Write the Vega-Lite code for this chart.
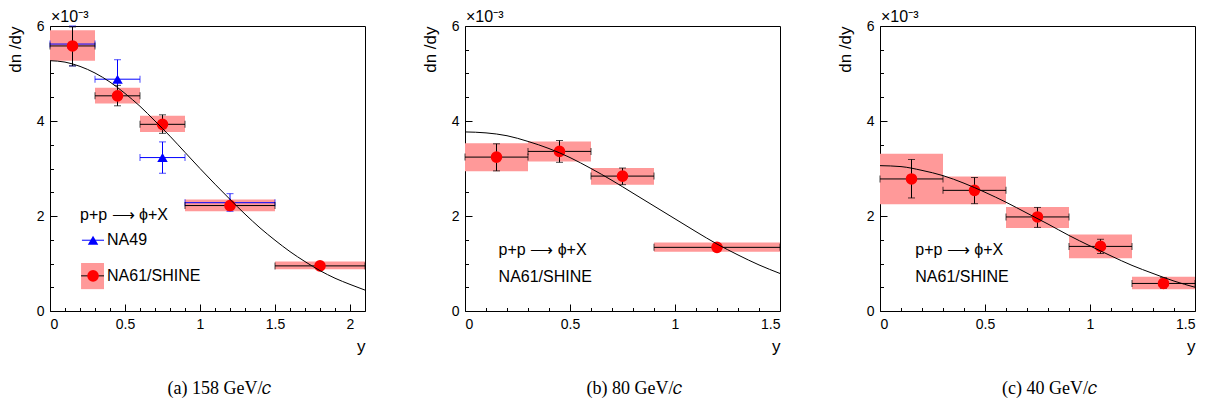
{
"$schema": "https://vega.github.io/schema/vega-lite/v6.json",
"background": "white",
"padding": {"left": 5, "top": 8, "right": 5, "bottom": 0},
"spacing": 100,
"bounds": "flush",
"datasets": {
"meas": [
{"p":"a","e":"NA61","x":0.15,"xlo":0,"xhi":0.3,"y":5.58,"ylo":5.16,"yhi":5.98,"slo":5.27,"shi":5.91},
{"p":"a","e":"NA61","x":0.45,"xlo":0.3,"xhi":0.6,"y":4.53,"ylo":4.32,"yhi":4.75,"slo":4.37,"shi":4.70},
{"p":"a","e":"NA61","x":0.75,"xlo":0.6,"xhi":0.9,"y":3.93,"ylo":3.74,"yhi":4.13,"slo":3.77,"shi":4.11},
{"p":"a","e":"NA61","x":1.2,"xlo":0.9,"xhi":1.5,"y":2.22,"ylo":2.16,"yhi":2.28,"slo":2.10,"shi":2.35},
{"p":"a","e":"NA61","x":1.8,"xlo":1.5,"xhi":2.1,"y":0.95,"ylo":0.91,"yhi":0.99,"slo":0.88,"shi":1.04},
{"p":"a","e":"NA49","x":0.15,"xlo":0,"xhi":0.3,"y":5.62,"ylo":5.16,"yhi":6.0},
{"p":"a","e":"NA49","x":0.45,"xlo":0.3,"xhi":0.6,"y":4.88,"ylo":4.46,"yhi":5.29},
{"p":"a","e":"NA49","x":0.75,"xlo":0.6,"xhi":0.9,"y":3.23,"ylo":2.90,"yhi":3.56},
{"p":"a","e":"NA49","x":1.2,"xlo":0.9,"xhi":1.5,"y":2.28,"ylo":2.10,"yhi":2.47},
{"p":"b","e":"NA61","x":0.15,"xlo":0,"xhi":0.3,"y":3.24,"ylo":2.95,"yhi":3.52,"slo":2.94,"shi":3.53},
{"p":"b","e":"NA61","x":0.45,"xlo":0.3,"xhi":0.6,"y":3.36,"ylo":3.13,"yhi":3.59,"slo":3.15,"shi":3.57},
{"p":"b","e":"NA61","x":0.75,"xlo":0.6,"xhi":0.9,"y":2.84,"ylo":2.66,"yhi":3.01,"slo":2.66,"shi":3.01},
{"p":"b","e":"NA61","x":1.2,"xlo":0.9,"xhi":1.5,"y":1.34,"ylo":1.30,"yhi":1.38,"slo":1.25,"shi":1.44},
{"p":"c","e":"NA61","x":0.15,"xlo":0,"xhi":0.3,"y":2.78,"ylo":2.38,"yhi":3.19,"slo":2.25,"shi":3.31},
{"p":"c","e":"NA61","x":0.45,"xlo":0.3,"xhi":0.6,"y":2.54,"ylo":2.26,"yhi":2.81,"slo":2.25,"shi":2.83},
{"p":"c","e":"NA61","x":0.75,"xlo":0.6,"xhi":0.9,"y":1.98,"ylo":1.76,"yhi":2.18,"slo":1.75,"shi":2.19},
{"p":"c","e":"NA61","x":1.05,"xlo":0.9,"xhi":1.2,"y":1.36,"ylo":1.21,"yhi":1.51,"slo":1.11,"shi":1.61},
{"p":"c","e":"NA61","x":1.35,"xlo":1.2,"xhi":1.5,"y":0.58,"ylo":0.48,"yhi":0.70,"slo":0.46,"shi":0.72}
],
"fit": [
{"p":"a","x":0,"y":5.27},{"p":"a","x":0.1,"y":5.24},{"p":"a","x":0.2,"y":5.15},{"p":"a","x":0.3,"y":5.01},{"p":"a","x":0.4,"y":4.82},{"p":"a","x":0.5,"y":4.58},{"p":"a","x":0.6,"y":4.31},{"p":"a","x":0.7,"y":4.0},{"p":"a","x":0.8,"y":3.68},{"p":"a","x":0.9,"y":3.34},{"p":"a","x":1.0,"y":3.0},{"p":"a","x":1.1,"y":2.67},{"p":"a","x":1.2,"y":2.35},{"p":"a","x":1.3,"y":2.04},{"p":"a","x":1.4,"y":1.75},{"p":"a","x":1.5,"y":1.49},{"p":"a","x":1.6,"y":1.25},{"p":"a","x":1.7,"y":1.04},{"p":"a","x":1.8,"y":0.85},{"p":"a","x":1.9,"y":0.69},{"p":"a","x":2.0,"y":0.56},{"p":"a","x":2.1,"y":0.44},
{"p":"b","x":0,"y":3.77},{"p":"b","x":0.1,"y":3.75},{"p":"b","x":0.2,"y":3.69},{"p":"b","x":0.3,"y":3.57},{"p":"b","x":0.4,"y":3.42},{"p":"b","x":0.5,"y":3.23},{"p":"b","x":0.6,"y":3.0},{"p":"b","x":0.7,"y":2.75},{"p":"b","x":0.8,"y":2.48},{"p":"b","x":0.9,"y":2.21},{"p":"b","x":1.0,"y":1.94},{"p":"b","x":1.1,"y":1.67},{"p":"b","x":1.2,"y":1.41},{"p":"b","x":1.3,"y":1.18},{"p":"b","x":1.4,"y":0.97},{"p":"b","x":1.5,"y":0.79},
{"p":"c","x":0,"y":3.06},{"p":"c","x":0.1,"y":3.04},{"p":"c","x":0.2,"y":2.96},{"p":"c","x":0.3,"y":2.85},{"p":"c","x":0.4,"y":2.69},{"p":"c","x":0.5,"y":2.5},{"p":"c","x":0.6,"y":2.29},{"p":"c","x":0.7,"y":2.06},{"p":"c","x":0.8,"y":1.83},{"p":"c","x":0.9,"y":1.59},{"p":"c","x":1.0,"y":1.37},{"p":"c","x":1.1,"y":1.16},{"p":"c","x":1.2,"y":0.96},{"p":"c","x":1.3,"y":0.79},{"p":"c","x":1.4,"y":0.63},{"p":"c","x":1.5,"y":0.5}
],
"legend": [
{"p":"a","e":"NA49","x":0.287,"xlo":0.213,"xhi":0.36,"y":1.49},
{"p":"a","e":"NA61","x":0.287,"xlo":0.207,"xhi":0.36,"y":0.74,"slo":0.46,"shi":1.01}
],
"labels": [
{"p":"a","x":0.2,"y":2.02,"text":"p+p ⟶ ϕ+X"},
{"p":"a","x":0.38,"y":1.49,"text":"NA49"},
{"p":"a","x":0.38,"y":0.74,"text":"NA61/SHINE"},
{"p":"b","x":0.16,"y":1.28,"text":"p+p ⟶ ϕ+X"},
{"p":"b","x":0.16,"y":0.72,"text":"NA61/SHINE"},
{"p":"c","x":0.168,"y":1.28,"text":"p+p ⟶ ϕ+X"},
{"p":"c","x":0.168,"y":0.72,"text":"NA61/SHINE"}
],
"corner": [{"x": 0, "y": 6, "text": "×10⁻³"}]
},
"config": {
"font": "Liberation Sans",
"view": {"stroke": "black", "strokeWidth": 1},
"axis": {"domain": false, "grid": false, "tickColor": "black", "tickWidth": 1, "labelColor": "black", "labelFont": "Liberation Sans", "labelFontSize": 14, "titleFont": "Liberation Sans", "titleFontSize": 17, "titleFontWeight": "normal", "titleColor": "black", "labelPadding": 13, "labelOverlap": false},
"axisY": {"titleAnchor": "end", "titlePadding": 12},
"axisX": {"titleAnchor": "end", "titlePadding": 4},
"title": {"font": "Liberation Serif", "fontSize": 18, "fontWeight": "normal", "color": "black", "orient": "bottom", "offset": 25, "dx": 12}
},
"hconcat": [
{
"width": 315, "height": 285,
"title": {"text": "(a) 158 GeV/𝑐"},
"layer": [
{"data": {"name": "meas"}, "transform": [{"filter": "datum.p==='a' && datum.e==='NA61'"}],
 "mark": {"type": "rect", "color": "#ff9999"},
 "encoding": {
  "x": {"field": "xlo", "type": "quantitative", "title": "y", "scale": {"domain": [0, 2.1], "nice": false, "zero": false},
   "axis": {"values": [0,0.1,0.2,0.3,0.4,0.5,0.6,0.7,0.8,0.9,1,1.1,1.2,1.3,1.4,1.5,1.6,1.7,1.8,1.9,2,2.1], "tickCount": 50, "tickSize": {"condition": {"test": "abs(datum.value*2 - round(datum.value*2)) < 0.001", "value": -7}, "value": -3.5}, "labelExpr": "abs(datum.value*2 - round(datum.value*2)) < 0.001 ? '' + round(datum.value*10)/10 : ''"}},
  "x2": {"field": "xhi"},
  "y": {"field": "slo", "type": "quantitative", "title": "dn /dy", "scale": {"domain": [0, 6], "nice": false},
   "axis": {"values": [0,0.5,1,1.5,2,2.5,3,3.5,4,4.5,5,5.5,6], "tickCount": 50, "tickSize": {"condition": {"test": "abs(datum.value/2 - round(datum.value/2)) < 0.001", "value": -7}, "value": -3.5}, "labelExpr": "abs(datum.value/2 - round(datum.value/2)) < 0.001 ? '' + round(datum.value) : ''"}},
  "y2": {"field": "shi"}}},
{"data": {"name": "legend"}, "transform": [{"filter": "datum.p==='a' && datum.e==='NA61'"}],
 "mark": {"type": "rect", "color": "#ff9999"},
 "encoding": {
  "x": {"field": "xlo", "type": "quantitative", "title": "y", "axis": {"values": [0,0.1,0.2,0.3,0.4,0.5,0.6,0.7,0.8,0.9,1,1.1,1.2,1.3,1.4,1.5,1.6,1.7,1.8,1.9,2,2.1], "tickCount": 50, "tickSize": {"condition": {"test": "abs(datum.value*2 - round(datum.value*2)) < 0.001", "value": -7}, "value": -3.5}, "labelExpr": "abs(datum.value*2 - round(datum.value*2)) < 0.001 ? '' + round(datum.value*10)/10 : ''"}},
  "x2": {"field": "xhi"},
  "y": {"field": "slo", "type": "quantitative", "title": "dn /dy", "axis": {"values": [0,0.5,1,1.5,2,2.5,3,3.5,4,4.5,5,5.5,6], "tickCount": 50, "tickSize": {"condition": {"test": "abs(datum.value/2 - round(datum.value/2)) < 0.001", "value": -7}, "value": -3.5}, "labelExpr": "abs(datum.value/2 - round(datum.value/2)) < 0.001 ? '' + round(datum.value) : ''"}},
  "y2": {"field": "shi"}}},
{"data": {"name": "meas"}, "transform": [{"filter": "datum.p==='a' && datum.e==='NA49'"}],
 "mark": {"type": "errorbar", "color": "blue", "ticks": {"size": 7}},
 "encoding": {
  "x": {"field": "xlo", "type": "quantitative", "title": "y", "axis": {"values": [0,0.1,0.2,0.3,0.4,0.5,0.6,0.7,0.8,0.9,1,1.1,1.2,1.3,1.4,1.5,1.6,1.7,1.8,1.9,2,2.1], "tickCount": 50, "tickSize": {"condition": {"test": "abs(datum.value*2 - round(datum.value*2)) < 0.001", "value": -7}, "value": -3.5}, "labelExpr": "abs(datum.value*2 - round(datum.value*2)) < 0.001 ? '' + round(datum.value*10)/10 : ''"}},
  "x2": {"field": "xhi"},
  "y": {"field": "y", "type": "quantitative", "title": "dn /dy", "axis": {"values": [0,0.5,1,1.5,2,2.5,3,3.5,4,4.5,5,5.5,6], "tickCount": 50, "tickSize": {"condition": {"test": "abs(datum.value/2 - round(datum.value/2)) < 0.001", "value": -7}, "value": -3.5}, "labelExpr": "abs(datum.value/2 - round(datum.value/2)) < 0.001 ? '' + round(datum.value) : ''"}}}},
{"data": {"name": "meas"}, "transform": [{"filter": "datum.p==='a' && datum.e==='NA49'"}],
 "mark": {"type": "errorbar", "color": "blue", "ticks": {"size": 7}},
 "encoding": {
  "y": {"field": "ylo", "type": "quantitative", "title": "dn /dy", "axis": {"values": [0,0.5,1,1.5,2,2.5,3,3.5,4,4.5,5,5.5,6], "tickCount": 50, "tickSize": {"condition": {"test": "abs(datum.value/2 - round(datum.value/2)) < 0.001", "value": -7}, "value": -3.5}, "labelExpr": "abs(datum.value/2 - round(datum.value/2)) < 0.001 ? '' + round(datum.value) : ''"}},
  "y2": {"field": "yhi"},
  "x": {"field": "x", "type": "quantitative", "title": "y", "axis": {"values": [0,0.1,0.2,0.3,0.4,0.5,0.6,0.7,0.8,0.9,1,1.1,1.2,1.3,1.4,1.5,1.6,1.7,1.8,1.9,2,2.1], "tickCount": 50, "tickSize": {"condition": {"test": "abs(datum.value*2 - round(datum.value*2)) < 0.001", "value": -7}, "value": -3.5}, "labelExpr": "abs(datum.value*2 - round(datum.value*2)) < 0.001 ? '' + round(datum.value*10)/10 : ''"}}}},
{"data": {"name": "meas"}, "transform": [{"filter": "datum.p==='a' && datum.e==='NA49'"}],
 "mark": {"type": "point", "shape": "triangle-up", "filled": true, "color": "blue", "size": 110, "opacity": 1},
 "encoding": {
  "x": {"field": "x", "type": "quantitative", "title": "y", "axis": {"values": [0,0.1,0.2,0.3,0.4,0.5,0.6,0.7,0.8,0.9,1,1.1,1.2,1.3,1.4,1.5,1.6,1.7,1.8,1.9,2,2.1], "tickCount": 50, "tickSize": {"condition": {"test": "abs(datum.value*2 - round(datum.value*2)) < 0.001", "value": -7}, "value": -3.5}, "labelExpr": "abs(datum.value*2 - round(datum.value*2)) < 0.001 ? '' + round(datum.value*10)/10 : ''"}},
  "y": {"field": "y", "type": "quantitative", "title": "dn /dy", "axis": {"values": [0,0.5,1,1.5,2,2.5,3,3.5,4,4.5,5,5.5,6], "tickCount": 50, "tickSize": {"condition": {"test": "abs(datum.value/2 - round(datum.value/2)) < 0.001", "value": -7}, "value": -3.5}, "labelExpr": "abs(datum.value/2 - round(datum.value/2)) < 0.001 ? '' + round(datum.value) : ''"}}}},
{"data": {"name": "meas"}, "transform": [{"filter": "datum.p==='a' && datum.e==='NA61'"}],
 "mark": {"type": "errorbar", "color": "black", "ticks": {"size": 7}},
 "encoding": {
  "x": {"field": "xlo", "type": "quantitative", "title": "y", "axis": {"values": [0,0.1,0.2,0.3,0.4,0.5,0.6,0.7,0.8,0.9,1,1.1,1.2,1.3,1.4,1.5,1.6,1.7,1.8,1.9,2,2.1], "tickCount": 50, "tickSize": {"condition": {"test": "abs(datum.value*2 - round(datum.value*2)) < 0.001", "value": -7}, "value": -3.5}, "labelExpr": "abs(datum.value*2 - round(datum.value*2)) < 0.001 ? '' + round(datum.value*10)/10 : ''"}},
  "x2": {"field": "xhi"},
  "y": {"field": "y", "type": "quantitative", "title": "dn /dy", "axis": {"values": [0,0.5,1,1.5,2,2.5,3,3.5,4,4.5,5,5.5,6], "tickCount": 50, "tickSize": {"condition": {"test": "abs(datum.value/2 - round(datum.value/2)) < 0.001", "value": -7}, "value": -3.5}, "labelExpr": "abs(datum.value/2 - round(datum.value/2)) < 0.001 ? '' + round(datum.value) : ''"}}}},
{"data": {"name": "meas"}, "transform": [{"filter": "datum.p==='a' && datum.e==='NA61'"}],
 "mark": {"type": "errorbar", "color": "black", "ticks": {"size": 7}},
 "encoding": {
  "y": {"field": "ylo", "type": "quantitative", "title": "dn /dy", "axis": {"values": [0,0.5,1,1.5,2,2.5,3,3.5,4,4.5,5,5.5,6], "tickCount": 50, "tickSize": {"condition": {"test": "abs(datum.value/2 - round(datum.value/2)) < 0.001", "value": -7}, "value": -3.5}, "labelExpr": "abs(datum.value/2 - round(datum.value/2)) < 0.001 ? '' + round(datum.value) : ''"}},
  "y2": {"field": "yhi"},
  "x": {"field": "x", "type": "quantitative", "title": "y", "axis": {"values": [0,0.1,0.2,0.3,0.4,0.5,0.6,0.7,0.8,0.9,1,1.1,1.2,1.3,1.4,1.5,1.6,1.7,1.8,1.9,2,2.1], "tickCount": 50, "tickSize": {"condition": {"test": "abs(datum.value*2 - round(datum.value*2)) < 0.001", "value": -7}, "value": -3.5}, "labelExpr": "abs(datum.value*2 - round(datum.value*2)) < 0.001 ? '' + round(datum.value*10)/10 : ''"}}}},
{"data": {"name": "meas"}, "transform": [{"filter": "datum.p==='a' && datum.e==='NA61'"}],
 "mark": {"type": "point", "shape": "circle", "filled": true, "color": "red", "size": 135, "opacity": 1},
 "encoding": {
  "x": {"field": "x", "type": "quantitative", "title": "y", "axis": {"values": [0,0.1,0.2,0.3,0.4,0.5,0.6,0.7,0.8,0.9,1,1.1,1.2,1.3,1.4,1.5,1.6,1.7,1.8,1.9,2,2.1], "tickCount": 50, "tickSize": {"condition": {"test": "abs(datum.value*2 - round(datum.value*2)) < 0.001", "value": -7}, "value": -3.5}, "labelExpr": "abs(datum.value*2 - round(datum.value*2)) < 0.001 ? '' + round(datum.value*10)/10 : ''"}},
  "y": {"field": "y", "type": "quantitative", "title": "dn /dy", "axis": {"values": [0,0.5,1,1.5,2,2.5,3,3.5,4,4.5,5,5.5,6], "tickCount": 50, "tickSize": {"condition": {"test": "abs(datum.value/2 - round(datum.value/2)) < 0.001", "value": -7}, "value": -3.5}, "labelExpr": "abs(datum.value/2 - round(datum.value/2)) < 0.001 ? '' + round(datum.value) : ''"}}}},
{"data": {"name": "fit"}, "transform": [{"filter": "datum.p==='a'"}],
 "mark": {"type": "line", "color": "black", "strokeWidth": 1, "interpolate": "monotone"},
 "encoding": {
  "x": {"field": "x", "type": "quantitative", "title": "y", "axis": {"values": [0,0.1,0.2,0.3,0.4,0.5,0.6,0.7,0.8,0.9,1,1.1,1.2,1.3,1.4,1.5,1.6,1.7,1.8,1.9,2,2.1], "tickCount": 50, "tickSize": {"condition": {"test": "abs(datum.value*2 - round(datum.value*2)) < 0.001", "value": -7}, "value": -3.5}, "labelExpr": "abs(datum.value*2 - round(datum.value*2)) < 0.001 ? '' + round(datum.value*10)/10 : ''"}},
  "y": {"field": "y", "type": "quantitative", "title": "dn /dy", "axis": {"values": [0,0.5,1,1.5,2,2.5,3,3.5,4,4.5,5,5.5,6], "tickCount": 50, "tickSize": {"condition": {"test": "abs(datum.value/2 - round(datum.value/2)) < 0.001", "value": -7}, "value": -3.5}, "labelExpr": "abs(datum.value/2 - round(datum.value/2)) < 0.001 ? '' + round(datum.value) : ''"}}}},
{"data": {"name": "legend"}, "transform": [{"filter": "datum.p==='a'"}],
 "mark": {"type": "rule", "strokeWidth": 1},
 "encoding": {
  "x": {"field": "xlo", "type": "quantitative", "title": "y", "axis": {"values": [0,0.1,0.2,0.3,0.4,0.5,0.6,0.7,0.8,0.9,1,1.1,1.2,1.3,1.4,1.5,1.6,1.7,1.8,1.9,2,2.1], "tickCount": 50, "tickSize": {"condition": {"test": "abs(datum.value*2 - round(datum.value*2)) < 0.001", "value": -7}, "value": -3.5}, "labelExpr": "abs(datum.value*2 - round(datum.value*2)) < 0.001 ? '' + round(datum.value*10)/10 : ''"}},
  "x2": {"field": "xhi"},
  "y": {"field": "y", "type": "quantitative", "title": "dn /dy", "axis": {"values": [0,0.5,1,1.5,2,2.5,3,3.5,4,4.5,5,5.5,6], "tickCount": 50, "tickSize": {"condition": {"test": "abs(datum.value/2 - round(datum.value/2)) < 0.001", "value": -7}, "value": -3.5}, "labelExpr": "abs(datum.value/2 - round(datum.value/2)) < 0.001 ? '' + round(datum.value) : ''"}},
  "color": {"condition": {"test": "datum.e==='NA49'", "value": "blue"}, "value": "black"}}},
{"data": {"name": "legend"}, "transform": [{"filter": "datum.p==='a'"}],
 "mark": {"type": "point", "filled": true, "opacity": 1},
 "encoding": {
  "x": {"field": "x", "type": "quantitative", "title": "y", "axis": {"values": [0,0.1,0.2,0.3,0.4,0.5,0.6,0.7,0.8,0.9,1,1.1,1.2,1.3,1.4,1.5,1.6,1.7,1.8,1.9,2,2.1], "tickCount": 50, "tickSize": {"condition": {"test": "abs(datum.value*2 - round(datum.value*2)) < 0.001", "value": -7}, "value": -3.5}, "labelExpr": "abs(datum.value*2 - round(datum.value*2)) < 0.001 ? '' + round(datum.value*10)/10 : ''"}},
  "y": {"field": "y", "type": "quantitative", "title": "dn /dy", "axis": {"values": [0,0.5,1,1.5,2,2.5,3,3.5,4,4.5,5,5.5,6], "tickCount": 50, "tickSize": {"condition": {"test": "abs(datum.value/2 - round(datum.value/2)) < 0.001", "value": -7}, "value": -3.5}, "labelExpr": "abs(datum.value/2 - round(datum.value/2)) < 0.001 ? '' + round(datum.value) : ''"}},
  "shape": {"condition": {"test": "datum.e==='NA49'", "value": "triangle-up"}, "value": "circle"},
  "size": {"condition": {"test": "datum.e==='NA49'", "value": 110}, "value": 135},
  "color": {"condition": {"test": "datum.e==='NA49'", "value": "blue"}, "value": "red"}}},
{"data": {"name": "labels"}, "transform": [{"filter": "datum.p==='a'"}],
 "mark": {"type": "text", "align": "left", "baseline": "middle", "fontSize": 16, "font": "Liberation Sans", "color": "black"},
 "encoding": {
  "x": {"field": "x", "type": "quantitative", "title": "y", "axis": {"values": [0,0.1,0.2,0.3,0.4,0.5,0.6,0.7,0.8,0.9,1,1.1,1.2,1.3,1.4,1.5,1.6,1.7,1.8,1.9,2,2.1], "tickCount": 50, "tickSize": {"condition": {"test": "abs(datum.value*2 - round(datum.value*2)) < 0.001", "value": -7}, "value": -3.5}, "labelExpr": "abs(datum.value*2 - round(datum.value*2)) < 0.001 ? '' + round(datum.value*10)/10 : ''"}},
  "y": {"field": "y", "type": "quantitative", "title": "dn /dy", "axis": {"values": [0,0.5,1,1.5,2,2.5,3,3.5,4,4.5,5,5.5,6], "tickCount": 50, "tickSize": {"condition": {"test": "abs(datum.value/2 - round(datum.value/2)) < 0.001", "value": -7}, "value": -3.5}, "labelExpr": "abs(datum.value/2 - round(datum.value/2)) < 0.001 ? '' + round(datum.value) : ''"}},
  "text": {"field": "text"}}},
{"data": {"name": "corner"},
 "mark": {"type": "text", "align": "left", "baseline": "bottom", "dx": 1, "dy": -1, "fontSize": 16, "font": "Liberation Sans", "color": "black"},
 "encoding": {
  "x": {"field": "x", "type": "quantitative", "title": "y", "axis": {"values": [0,0.1,0.2,0.3,0.4,0.5,0.6,0.7,0.8,0.9,1,1.1,1.2,1.3,1.4,1.5,1.6,1.7,1.8,1.9,2,2.1], "tickCount": 50, "tickSize": {"condition": {"test": "abs(datum.value*2 - round(datum.value*2)) < 0.001", "value": -7}, "value": -3.5}, "labelExpr": "abs(datum.value*2 - round(datum.value*2)) < 0.001 ? '' + round(datum.value*10)/10 : ''"}},
  "y": {"field": "y", "type": "quantitative", "title": "dn /dy", "axis": {"values": [0,0.5,1,1.5,2,2.5,3,3.5,4,4.5,5,5.5,6], "tickCount": 50, "tickSize": {"condition": {"test": "abs(datum.value/2 - round(datum.value/2)) < 0.001", "value": -7}, "value": -3.5}, "labelExpr": "abs(datum.value/2 - round(datum.value/2)) < 0.001 ? '' + round(datum.value) : ''"}},
  "text": {"field": "text"}}}
]
},
{
"width": 315, "height": 285,
"title": {"text": "(b) 80 GeV/𝑐"},
"layer": [
{"data": {"name": "meas"}, "transform": [{"filter": "datum.p==='b'"}],
 "mark": {"type": "rect", "color": "#ff9999"},
 "encoding": {
  "x": {"field": "xlo", "type": "quantitative", "title": "y", "scale": {"domain": [0, 1.5], "nice": false, "zero": false},
   "axis": {"values": [0,0.1,0.2,0.3,0.4,0.5,0.6,0.7,0.8,0.9,1,1.1,1.2,1.3,1.4,1.5], "tickCount": 50, "tickSize": {"condition": {"test": "abs(datum.value*2 - round(datum.value*2)) < 0.001", "value": -7}, "value": -3.5}, "labelExpr": "abs(datum.value*2 - round(datum.value*2)) < 0.001 ? '' + round(datum.value*10)/10 : ''"}},
  "x2": {"field": "xhi"},
  "y": {"field": "slo", "type": "quantitative", "title": "dn /dy", "scale": {"domain": [0, 6], "nice": false},
   "axis": {"values": [0,0.5,1,1.5,2,2.5,3,3.5,4,4.5,5,5.5,6], "tickCount": 50, "tickSize": {"condition": {"test": "abs(datum.value/2 - round(datum.value/2)) < 0.001", "value": -7}, "value": -3.5}, "labelExpr": "abs(datum.value/2 - round(datum.value/2)) < 0.001 ? '' + round(datum.value) : ''"}},
  "y2": {"field": "shi"}}},
{"data": {"name": "meas"}, "transform": [{"filter": "datum.p==='b'"}],
 "mark": {"type": "errorbar", "color": "black", "ticks": {"size": 7}},
 "encoding": {
  "x": {"field": "xlo", "type": "quantitative", "title": "y", "axis": {"values": [0,0.1,0.2,0.3,0.4,0.5,0.6,0.7,0.8,0.9,1,1.1,1.2,1.3,1.4,1.5], "tickCount": 50, "tickSize": {"condition": {"test": "abs(datum.value*2 - round(datum.value*2)) < 0.001", "value": -7}, "value": -3.5}, "labelExpr": "abs(datum.value*2 - round(datum.value*2)) < 0.001 ? '' + round(datum.value*10)/10 : ''"}},
  "x2": {"field": "xhi"},
  "y": {"field": "y", "type": "quantitative", "title": "dn /dy", "axis": {"values": [0,0.5,1,1.5,2,2.5,3,3.5,4,4.5,5,5.5,6], "tickCount": 50, "tickSize": {"condition": {"test": "abs(datum.value/2 - round(datum.value/2)) < 0.001", "value": -7}, "value": -3.5}, "labelExpr": "abs(datum.value/2 - round(datum.value/2)) < 0.001 ? '' + round(datum.value) : ''"}}}},
{"data": {"name": "meas"}, "transform": [{"filter": "datum.p==='b'"}],
 "mark": {"type": "errorbar", "color": "black", "ticks": {"size": 7}},
 "encoding": {
  "y": {"field": "ylo", "type": "quantitative", "title": "dn /dy", "axis": {"values": [0,0.5,1,1.5,2,2.5,3,3.5,4,4.5,5,5.5,6], "tickCount": 50, "tickSize": {"condition": {"test": "abs(datum.value/2 - round(datum.value/2)) < 0.001", "value": -7}, "value": -3.5}, "labelExpr": "abs(datum.value/2 - round(datum.value/2)) < 0.001 ? '' + round(datum.value) : ''"}},
  "y2": {"field": "yhi"},
  "x": {"field": "x", "type": "quantitative", "title": "y", "axis": {"values": [0,0.1,0.2,0.3,0.4,0.5,0.6,0.7,0.8,0.9,1,1.1,1.2,1.3,1.4,1.5], "tickCount": 50, "tickSize": {"condition": {"test": "abs(datum.value*2 - round(datum.value*2)) < 0.001", "value": -7}, "value": -3.5}, "labelExpr": "abs(datum.value*2 - round(datum.value*2)) < 0.001 ? '' + round(datum.value*10)/10 : ''"}}}},
{"data": {"name": "meas"}, "transform": [{"filter": "datum.p==='b'"}],
 "mark": {"type": "point", "shape": "circle", "filled": true, "color": "red", "size": 135, "opacity": 1},
 "encoding": {
  "x": {"field": "x", "type": "quantitative", "title": "y", "axis": {"values": [0,0.1,0.2,0.3,0.4,0.5,0.6,0.7,0.8,0.9,1,1.1,1.2,1.3,1.4,1.5], "tickCount": 50, "tickSize": {"condition": {"test": "abs(datum.value*2 - round(datum.value*2)) < 0.001", "value": -7}, "value": -3.5}, "labelExpr": "abs(datum.value*2 - round(datum.value*2)) < 0.001 ? '' + round(datum.value*10)/10 : ''"}},
  "y": {"field": "y", "type": "quantitative", "title": "dn /dy", "axis": {"values": [0,0.5,1,1.5,2,2.5,3,3.5,4,4.5,5,5.5,6], "tickCount": 50, "tickSize": {"condition": {"test": "abs(datum.value/2 - round(datum.value/2)) < 0.001", "value": -7}, "value": -3.5}, "labelExpr": "abs(datum.value/2 - round(datum.value/2)) < 0.001 ? '' + round(datum.value) : ''"}}}},
{"data": {"name": "fit"}, "transform": [{"filter": "datum.p==='b'"}],
 "mark": {"type": "line", "color": "black", "strokeWidth": 1, "interpolate": "monotone"},
 "encoding": {
  "x": {"field": "x", "type": "quantitative", "title": "y", "axis": {"values": [0,0.1,0.2,0.3,0.4,0.5,0.6,0.7,0.8,0.9,1,1.1,1.2,1.3,1.4,1.5], "tickCount": 50, "tickSize": {"condition": {"test": "abs(datum.value*2 - round(datum.value*2)) < 0.001", "value": -7}, "value": -3.5}, "labelExpr": "abs(datum.value*2 - round(datum.value*2)) < 0.001 ? '' + round(datum.value*10)/10 : ''"}},
  "y": {"field": "y", "type": "quantitative", "title": "dn /dy", "axis": {"values": [0,0.5,1,1.5,2,2.5,3,3.5,4,4.5,5,5.5,6], "tickCount": 50, "tickSize": {"condition": {"test": "abs(datum.value/2 - round(datum.value/2)) < 0.001", "value": -7}, "value": -3.5}, "labelExpr": "abs(datum.value/2 - round(datum.value/2)) < 0.001 ? '' + round(datum.value) : ''"}}}},
{"data": {"name": "labels"}, "transform": [{"filter": "datum.p==='b'"}],
 "mark": {"type": "text", "align": "left", "baseline": "middle", "fontSize": 16, "font": "Liberation Sans", "color": "black"},
 "encoding": {
  "x": {"field": "x", "type": "quantitative", "title": "y", "axis": {"values": [0,0.1,0.2,0.3,0.4,0.5,0.6,0.7,0.8,0.9,1,1.1,1.2,1.3,1.4,1.5], "tickCount": 50, "tickSize": {"condition": {"test": "abs(datum.value*2 - round(datum.value*2)) < 0.001", "value": -7}, "value": -3.5}, "labelExpr": "abs(datum.value*2 - round(datum.value*2)) < 0.001 ? '' + round(datum.value*10)/10 : ''"}},
  "y": {"field": "y", "type": "quantitative", "title": "dn /dy", "axis": {"values": [0,0.5,1,1.5,2,2.5,3,3.5,4,4.5,5,5.5,6], "tickCount": 50, "tickSize": {"condition": {"test": "abs(datum.value/2 - round(datum.value/2)) < 0.001", "value": -7}, "value": -3.5}, "labelExpr": "abs(datum.value/2 - round(datum.value/2)) < 0.001 ? '' + round(datum.value) : ''"}},
  "text": {"field": "text"}}},
{"data": {"name": "corner"},
 "mark": {"type": "text", "align": "left", "baseline": "bottom", "dx": 1, "dy": -1, "fontSize": 16, "font": "Liberation Sans", "color": "black"},
 "encoding": {
  "x": {"field": "x", "type": "quantitative", "title": "y", "axis": {"values": [0,0.1,0.2,0.3,0.4,0.5,0.6,0.7,0.8,0.9,1,1.1,1.2,1.3,1.4,1.5], "tickCount": 50, "tickSize": {"condition": {"test": "abs(datum.value*2 - round(datum.value*2)) < 0.001", "value": -7}, "value": -3.5}, "labelExpr": "abs(datum.value*2 - round(datum.value*2)) < 0.001 ? '' + round(datum.value*10)/10 : ''"}},
  "y": {"field": "y", "type": "quantitative", "title": "dn /dy", "axis": {"values": [0,0.5,1,1.5,2,2.5,3,3.5,4,4.5,5,5.5,6], "tickCount": 50, "tickSize": {"condition": {"test": "abs(datum.value/2 - round(datum.value/2)) < 0.001", "value": -7}, "value": -3.5}, "labelExpr": "abs(datum.value/2 - round(datum.value/2)) < 0.001 ? '' + round(datum.value) : ''"}},
  "text": {"field": "text"}}}
]
},
{
"width": 315, "height": 285,
"title": {"text": "(c) 40 GeV/𝑐"},
"layer": [
{"data": {"name": "meas"}, "transform": [{"filter": "datum.p==='c'"}],
 "mark": {"type": "rect", "color": "#ff9999"},
 "encoding": {
  "x": {"field": "xlo", "type": "quantitative", "title": "y", "scale": {"domain": [0, 1.5], "nice": false, "zero": false},
   "axis": {"values": [0,0.1,0.2,0.3,0.4,0.5,0.6,0.7,0.8,0.9,1,1.1,1.2,1.3,1.4,1.5], "tickCount": 50, "tickSize": {"condition": {"test": "abs(datum.value*2 - round(datum.value*2)) < 0.001", "value": -7}, "value": -3.5}, "labelExpr": "abs(datum.value*2 - round(datum.value*2)) < 0.001 ? '' + round(datum.value*10)/10 : ''"}},
  "x2": {"field": "xhi"},
  "y": {"field": "slo", "type": "quantitative", "title": "dn /dy", "scale": {"domain": [0, 6], "nice": false},
   "axis": {"values": [0,0.5,1,1.5,2,2.5,3,3.5,4,4.5,5,5.5,6], "tickCount": 50, "tickSize": {"condition": {"test": "abs(datum.value/2 - round(datum.value/2)) < 0.001", "value": -7}, "value": -3.5}, "labelExpr": "abs(datum.value/2 - round(datum.value/2)) < 0.001 ? '' + round(datum.value) : ''"}},
  "y2": {"field": "shi"}}},
{"data": {"name": "meas"}, "transform": [{"filter": "datum.p==='c'"}],
 "mark": {"type": "errorbar", "color": "black", "ticks": {"size": 7}},
 "encoding": {
  "x": {"field": "xlo", "type": "quantitative", "title": "y", "axis": {"values": [0,0.1,0.2,0.3,0.4,0.5,0.6,0.7,0.8,0.9,1,1.1,1.2,1.3,1.4,1.5], "tickCount": 50, "tickSize": {"condition": {"test": "abs(datum.value*2 - round(datum.value*2)) < 0.001", "value": -7}, "value": -3.5}, "labelExpr": "abs(datum.value*2 - round(datum.value*2)) < 0.001 ? '' + round(datum.value*10)/10 : ''"}},
  "x2": {"field": "xhi"},
  "y": {"field": "y", "type": "quantitative", "title": "dn /dy", "axis": {"values": [0,0.5,1,1.5,2,2.5,3,3.5,4,4.5,5,5.5,6], "tickCount": 50, "tickSize": {"condition": {"test": "abs(datum.value/2 - round(datum.value/2)) < 0.001", "value": -7}, "value": -3.5}, "labelExpr": "abs(datum.value/2 - round(datum.value/2)) < 0.001 ? '' + round(datum.value) : ''"}}}},
{"data": {"name": "meas"}, "transform": [{"filter": "datum.p==='c'"}],
 "mark": {"type": "errorbar", "color": "black", "ticks": {"size": 7}},
 "encoding": {
  "y": {"field": "ylo", "type": "quantitative", "title": "dn /dy", "axis": {"values": [0,0.5,1,1.5,2,2.5,3,3.5,4,4.5,5,5.5,6], "tickCount": 50, "tickSize": {"condition": {"test": "abs(datum.value/2 - round(datum.value/2)) < 0.001", "value": -7}, "value": -3.5}, "labelExpr": "abs(datum.value/2 - round(datum.value/2)) < 0.001 ? '' + round(datum.value) : ''"}},
  "y2": {"field": "yhi"},
  "x": {"field": "x", "type": "quantitative", "title": "y", "axis": {"values": [0,0.1,0.2,0.3,0.4,0.5,0.6,0.7,0.8,0.9,1,1.1,1.2,1.3,1.4,1.5], "tickCount": 50, "tickSize": {"condition": {"test": "abs(datum.value*2 - round(datum.value*2)) < 0.001", "value": -7}, "value": -3.5}, "labelExpr": "abs(datum.value*2 - round(datum.value*2)) < 0.001 ? '' + round(datum.value*10)/10 : ''"}}}},
{"data": {"name": "meas"}, "transform": [{"filter": "datum.p==='c'"}],
 "mark": {"type": "point", "shape": "circle", "filled": true, "color": "red", "size": 135, "opacity": 1},
 "encoding": {
  "x": {"field": "x", "type": "quantitative", "title": "y", "axis": {"values": [0,0.1,0.2,0.3,0.4,0.5,0.6,0.7,0.8,0.9,1,1.1,1.2,1.3,1.4,1.5], "tickCount": 50, "tickSize": {"condition": {"test": "abs(datum.value*2 - round(datum.value*2)) < 0.001", "value": -7}, "value": -3.5}, "labelExpr": "abs(datum.value*2 - round(datum.value*2)) < 0.001 ? '' + round(datum.value*10)/10 : ''"}},
  "y": {"field": "y", "type": "quantitative", "title": "dn /dy", "axis": {"values": [0,0.5,1,1.5,2,2.5,3,3.5,4,4.5,5,5.5,6], "tickCount": 50, "tickSize": {"condition": {"test": "abs(datum.value/2 - round(datum.value/2)) < 0.001", "value": -7}, "value": -3.5}, "labelExpr": "abs(datum.value/2 - round(datum.value/2)) < 0.001 ? '' + round(datum.value) : ''"}}}},
{"data": {"name": "fit"}, "transform": [{"filter": "datum.p==='c'"}],
 "mark": {"type": "line", "color": "black", "strokeWidth": 1, "interpolate": "monotone"},
 "encoding": {
  "x": {"field": "x", "type": "quantitative", "title": "y", "axis": {"values": [0,0.1,0.2,0.3,0.4,0.5,0.6,0.7,0.8,0.9,1,1.1,1.2,1.3,1.4,1.5], "tickCount": 50, "tickSize": {"condition": {"test": "abs(datum.value*2 - round(datum.value*2)) < 0.001", "value": -7}, "value": -3.5}, "labelExpr": "abs(datum.value*2 - round(datum.value*2)) < 0.001 ? '' + round(datum.value*10)/10 : ''"}},
  "y": {"field": "y", "type": "quantitative", "title": "dn /dy", "axis": {"values": [0,0.5,1,1.5,2,2.5,3,3.5,4,4.5,5,5.5,6], "tickCount": 50, "tickSize": {"condition": {"test": "abs(datum.value/2 - round(datum.value/2)) < 0.001", "value": -7}, "value": -3.5}, "labelExpr": "abs(datum.value/2 - round(datum.value/2)) < 0.001 ? '' + round(datum.value) : ''"}}}},
{"data": {"name": "labels"}, "transform": [{"filter": "datum.p==='c'"}],
 "mark": {"type": "text", "align": "left", "baseline": "middle", "fontSize": 16, "font": "Liberation Sans", "color": "black"},
 "encoding": {
  "x": {"field": "x", "type": "quantitative", "title": "y", "axis": {"values": [0,0.1,0.2,0.3,0.4,0.5,0.6,0.7,0.8,0.9,1,1.1,1.2,1.3,1.4,1.5], "tickCount": 50, "tickSize": {"condition": {"test": "abs(datum.value*2 - round(datum.value*2)) < 0.001", "value": -7}, "value": -3.5}, "labelExpr": "abs(datum.value*2 - round(datum.value*2)) < 0.001 ? '' + round(datum.value*10)/10 : ''"}},
  "y": {"field": "y", "type": "quantitative", "title": "dn /dy", "axis": {"values": [0,0.5,1,1.5,2,2.5,3,3.5,4,4.5,5,5.5,6], "tickCount": 50, "tickSize": {"condition": {"test": "abs(datum.value/2 - round(datum.value/2)) < 0.001", "value": -7}, "value": -3.5}, "labelExpr": "abs(datum.value/2 - round(datum.value/2)) < 0.001 ? '' + round(datum.value) : ''"}},
  "text": {"field": "text"}}},
{"data": {"name": "corner"},
 "mark": {"type": "text", "align": "left", "baseline": "bottom", "dx": 1, "dy": -1, "fontSize": 16, "font": "Liberation Sans", "color": "black"},
 "encoding": {
  "x": {"field": "x", "type": "quantitative", "title": "y", "axis": {"values": [0,0.1,0.2,0.3,0.4,0.5,0.6,0.7,0.8,0.9,1,1.1,1.2,1.3,1.4,1.5], "tickCount": 50, "tickSize": {"condition": {"test": "abs(datum.value*2 - round(datum.value*2)) < 0.001", "value": -7}, "value": -3.5}, "labelExpr": "abs(datum.value*2 - round(datum.value*2)) < 0.001 ? '' + round(datum.value*10)/10 : ''"}},
  "y": {"field": "y", "type": "quantitative", "title": "dn /dy", "axis": {"values": [0,0.5,1,1.5,2,2.5,3,3.5,4,4.5,5,5.5,6], "tickCount": 50, "tickSize": {"condition": {"test": "abs(datum.value/2 - round(datum.value/2)) < 0.001", "value": -7}, "value": -3.5}, "labelExpr": "abs(datum.value/2 - round(datum.value/2)) < 0.001 ? '' + round(datum.value) : ''"}},
  "text": {"field": "text"}}}
]
}
]
}
